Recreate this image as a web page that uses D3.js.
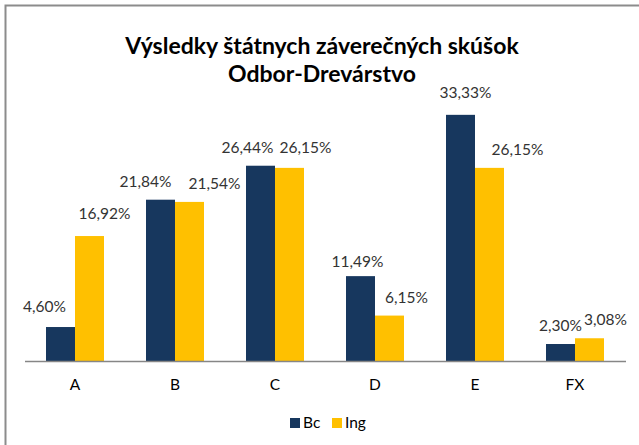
<!DOCTYPE html>
<html>
<head>
<meta charset="utf-8">
<script src="https://cdn.jsdelivr.net/npm/d3@7"></script>
<style>
  body{margin:0;background:#fff;}
  svg text{font-family:Lato,"Open Sans",sans-serif;}
</style>
</head>
<body>
<div id="chart"></div>
<script>
// data
var categories = ['A','B','C','D','E','FX'];
var series     = ['Bc','Ing'];
var bc  = [4.60, 21.84, 26.44, 11.49, 33.33, 2.30];
var ing = [16.92, 21.54, 26.15, 6.15, 26.15, 3.08];
var titleLines = ['Výsledky štátnych záverečných skúšok','Odbor-Drevárstvo'];

// styling
var colors = {Bc:'#17375E', Ing:'#FFC000'};
// labels were dragged by hand in the original, so nudge them the same way
var nudge = {
  Bc:  [[-16,-2],[-15,0],[-13,0],[-3,4],[5,-4],[0,0]],
  Ing: [[15,-4],[25,0],[16,-2],[17,0],[28,0],[16,0]]
};

function fmt(v){ return v.toFixed(2).replace('.',',')+'%'; }

var W = 639, H = 445;
var svg = d3.select('#chart').append('svg').attr('width',W).attr('height',H);

// chart border (right/bottom edges fall outside the picture)
svg.append('rect').attr('x',5.5).attr('y',5.5).attr('width',W+20).attr('height',H+20)
  .attr('fill','#fff').attr('stroke','#8c8c8c').attr('stroke-width',2);

// title
svg.append('g').selectAll('text').data(titleLines).enter()
  .append('text')
  .attr('x',322).attr('y',function(d,i){return 54+i*28;})
  .attr('text-anchor','middle')
  .style('font-weight','bold').style('font-size','23px').style('fill','#000')
  .text(function(d){return d;});

var x = d3.scaleBand().domain(categories).range([25,625]).paddingInner(0.42).paddingOuter(0.21);
var xs = d3.scaleBand().domain(series).range([0,x.bandwidth()]);
var y = d3.scaleLinear().domain([0,35]).range([361,102.5]);

var rows = categories.map(function(c,i){return {cat:c, Bc:bc[i], Ing:ing[i], i:i};});

var groups = svg.append('g').selectAll('.grp').data(rows).enter()
  .append('g').attr('class','grp')
  .attr('transform',function(d){return 'translate('+x(d.cat)+',0)';});

groups.selectAll('rect').data(function(d){
    return series.map(function(s){return {s:s, v:d[s], i:d.i};});
  }).enter()
  .append('rect')
  .attr('x',function(d){return xs(d.s);})
  .attr('width',xs.bandwidth())
  .attr('y',function(d){return y(d.v);})
  .attr('height',function(d){return y(0)-y(d.v);})
  .attr('fill',function(d){return colors[d.s];});

groups.selectAll('.lab').data(function(d){
    return series.map(function(s){return {s:s, v:d[s], i:d.i};});
  }).enter()
  .append('text').attr('class','lab')
  .attr('x',function(d){return xs(d.s)+xs.bandwidth()/2+nudge[d.s][d.i][0];})
  .attr('y',function(d){return y(d.v)-13+nudge[d.s][d.i][1];})
  .attr('text-anchor','middle')
  .style('font-size','15.5px').style('fill','#333')
  .text(function(d){return fmt(d.v);});

// x axis
var ax = svg.append('g').attr('transform','translate(0,361)')
  .call(d3.axisBottom(x).tickSize(0).tickPadding(0));
ax.select('.domain').attr('d','M25,0.5H626').attr('stroke','#868686').attr('stroke-width',1.5);
ax.selectAll('.tick text').attr('dy',0).attr('y',29)
  .style('font-size','15.5px').style('fill','#000').style('font-family','Lato,"Open Sans",sans-serif');

// legend
var legX = [290,332];
var leg = svg.append('g').selectAll('g').data(series).enter()
  .append('g').attr('transform',function(d,i){return 'translate('+legX[i]+',418)';});
leg.append('rect').attr('width',10).attr('height',10).attr('fill',function(d){return colors[d];});
leg.append('text').attr('x',13).attr('y',10)
  .style('font-size','15.5px').style('fill','#000')
  .text(function(d){return d;});
</script>
</body>
</html>
